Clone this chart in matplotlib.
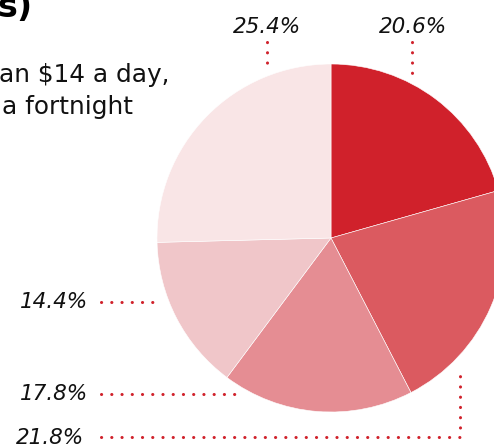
import matplotlib
matplotlib.use("Agg")
import matplotlib.pyplot as plt

# slices, clockwise from 12 o'clock
shares = [20.6, 21.8, 17.8, 14.4, 25.4]
share_labels = ["20.6%", "21.8%", "17.8%", "14.4%", "25.4%"]
colours = ["#d0212b", "#db5a60", "#e58d93", "#f0c6c9", "#f9e5e6"]

W, H = 494, 446
fig = plt.figure(figsize=(W / 100, H / 100), dpi=100)
ax = fig.add_axes([0, 0, 1, 1])


def py(y):
    # pixel row (from top) -> data y
    return H - y


cx, cy, r = 331, 238, 174
ax.pie(shares, colors=colours, startangle=90, counterclock=False,
       center=(cx, py(cy)), radius=r, frame=True,
       wedgeprops=dict(edgecolor="white", linewidth=0.4))
ax.set_xlim(0, W)
ax.set_ylim(0, H)
ax.set_aspect("equal")
ax.axis("off")

# title / subtitle (cropped at the left edge in the original)
ax.text(-3, py(17), "s)", fontsize=24, fontweight="bold", ha="left",
        va="baseline", color="black")
ax.text(-1, py(82), "an $14 a day,", fontsize=17.8, ha="left",
        va="baseline", color="#111111")
ax.text(2, py(114), "a fortnight", fontsize=17.8, ha="left",
        va="baseline", color="#111111")

dot = dict(color="#d0212b", linewidth=2.2, linestyle=(0, (0.05, 3.3)),
           dash_capstyle="round", solid_capstyle="round")
lab = dict(fontsize=15.5, style="italic", color="#111111")

# 20.6%
ax.text(413, py(27), share_labels[0], ha="center", va="center", **lab)
ax.plot([412, 412], [py(42), py(73)], **dot)
# 25.4%
ax.text(267, py(27), share_labels[4], ha="center", va="center", **lab)
ax.plot([267, 267], [py(42), py(67)], **dot)
# 14.4%
ax.text(88, py(302), share_labels[3], ha="right", va="center", **lab)
ax.plot([101, 154], [py(302), py(302)], **dot)
# 17.8%
ax.text(88, py(394), share_labels[2], ha="right", va="center", **lab)
ax.plot([101, 240], [py(394), py(394)], **dot)
# 21.8%
ax.text(84, py(438), share_labels[1], ha="right", va="center", **lab)
ax.plot([101, 460, 460], [py(437), py(437), py(368)], **dot)

fig.savefig("out.png", dpi=100)
